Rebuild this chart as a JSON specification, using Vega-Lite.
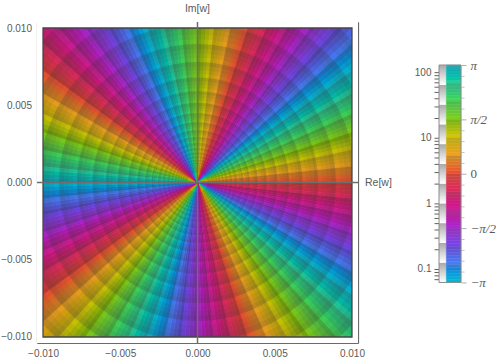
{"$schema":"https://vega.github.io/schema/vega-lite/v6.json","padding":{"left":0,"top":4,"right":0,"bottom":0},"background":"white","bounds":"flush","spacing":81,"config":{"view":{"stroke":null},"axis":{"labelFont":"Liberation Sans","labelFontSize":10,"labelColor":"#5a5a5a","tickColor":"#707070","domainColor":"#6a6a6a","title":null,"grid":false,"tickRound":false},"text":{"font":"Liberation Sans"}},
"datasets":{"wedges":[
{"t":0,"u":1.5,"p":86.25,"s":0.875},{"t":1.5,"u":3,"p":78.75,"s":0.625},{"t":3,"u":4.5,"p":71.25,"s":0.375},{"t":4.5,"u":6,"p":63.75,"s":0.125},{"t":6,"u":7.5,"p":56.25,"s":0.875},{"t":7.5,"u":9,"p":48.75,"s":0.625},{"t":9,"u":10.5,"p":41.25,"s":0.375},{"t":10.5,"u":12,"p":33.75,"s":0.125},{"t":12,"u":13.5,"p":26.25,"s":0.875},{"t":13.5,"u":15,"p":18.75,"s":0.625},{"t":15,"u":16.5,"p":11.25,"s":0.375},{"t":16.5,"u":18,"p":3.75,"s":0.125},{"t":18,"u":19.5,"p":-3.75,"s":0.875},{"t":19.5,"u":21,"p":-11.25,"s":0.625},{"t":21,"u":22.5,"p":-18.75,"s":0.375},{"t":22.5,"u":24,"p":-26.25,"s":0.125},{"t":24,"u":25.5,"p":-33.75,"s":0.875},{"t":25.5,"u":27,"p":-41.25,"s":0.625},{"t":27,"u":28.5,"p":-48.75,"s":0.375},{"t":28.5,"u":30,"p":-56.25,"s":0.125},{"t":30,"u":31.5,"p":-63.75,"s":0.875},{"t":31.5,"u":33,"p":-71.25,"s":0.625},{"t":33,"u":34.5,"p":-78.75,"s":0.375},{"t":34.5,"u":36,"p":-86.25,"s":0.125},{"t":36,"u":37.5,"p":-93.75,"s":0.875},{"t":37.5,"u":39,"p":-101.25,"s":0.625},{"t":39,"u":40.5,"p":-108.75,"s":0.375},{"t":40.5,"u":42,"p":-116.25,"s":0.125},{"t":42,"u":43.5,"p":-123.75,"s":0.875},{"t":43.5,"u":45,"p":-131.25,"s":0.625},{"t":45,"u":46.5,"p":-138.75,"s":0.375},{"t":46.5,"u":48,"p":-146.25,"s":0.125},{"t":48,"u":49.5,"p":-153.75,"s":0.875},{"t":49.5,"u":51,"p":-161.25,"s":0.625},{"t":51,"u":52.5,"p":-168.75,"s":0.375},{"t":52.5,"u":54,"p":-176.25,"s":0.125},{"t":54,"u":55.5,"p":176.25,"s":0.875},{"t":55.5,"u":57,"p":168.75,"s":0.625},{"t":57,"u":58.5,"p":161.25,"s":0.375},{"t":58.5,"u":60,"p":153.75,"s":0.125},{"t":60,"u":61.5,"p":146.25,"s":0.875},{"t":61.5,"u":63,"p":138.75,"s":0.625},{"t":63,"u":64.5,"p":131.25,"s":0.375},{"t":64.5,"u":66,"p":123.75,"s":0.125},{"t":66,"u":67.5,"p":116.25,"s":0.875},{"t":67.5,"u":69,"p":108.75,"s":0.625},{"t":69,"u":70.5,"p":101.25,"s":0.375},{"t":70.5,"u":72,"p":93.75,"s":0.125},
{"t":72,"u":73.5,"p":86.25,"s":0.875},{"t":73.5,"u":75,"p":78.75,"s":0.625},{"t":75,"u":76.5,"p":71.25,"s":0.375},{"t":76.5,"u":78,"p":63.75,"s":0.125},{"t":78,"u":79.5,"p":56.25,"s":0.875},{"t":79.5,"u":81,"p":48.75,"s":0.625},{"t":81,"u":82.5,"p":41.25,"s":0.375},{"t":82.5,"u":84,"p":33.75,"s":0.125},{"t":84,"u":85.5,"p":26.25,"s":0.875},{"t":85.5,"u":87,"p":18.75,"s":0.625},{"t":87,"u":88.5,"p":11.25,"s":0.375},{"t":88.5,"u":90,"p":3.75,"s":0.125},{"t":90,"u":91.5,"p":-3.75,"s":0.875},{"t":91.5,"u":93,"p":-11.25,"s":0.625},{"t":93,"u":94.5,"p":-18.75,"s":0.375},{"t":94.5,"u":96,"p":-26.25,"s":0.125},{"t":96,"u":97.5,"p":-33.75,"s":0.875},{"t":97.5,"u":99,"p":-41.25,"s":0.625},{"t":99,"u":100.5,"p":-48.75,"s":0.375},{"t":100.5,"u":102,"p":-56.25,"s":0.125},{"t":102,"u":103.5,"p":-63.75,"s":0.875},{"t":103.5,"u":105,"p":-71.25,"s":0.625},{"t":105,"u":106.5,"p":-78.75,"s":0.375},{"t":106.5,"u":108,"p":-86.25,"s":0.125},{"t":108,"u":109.5,"p":-93.75,"s":0.875},{"t":109.5,"u":111,"p":-101.25,"s":0.625},{"t":111,"u":112.5,"p":-108.75,"s":0.375},{"t":112.5,"u":114,"p":-116.25,"s":0.125},{"t":114,"u":115.5,"p":-123.75,"s":0.875},{"t":115.5,"u":117,"p":-131.25,"s":0.625},{"t":117,"u":118.5,"p":-138.75,"s":0.375},{"t":118.5,"u":120,"p":-146.25,"s":0.125},{"t":120,"u":121.5,"p":-153.75,"s":0.875},{"t":121.5,"u":123,"p":-161.25,"s":0.625},{"t":123,"u":124.5,"p":-168.75,"s":0.375},{"t":124.5,"u":126,"p":-176.25,"s":0.125},{"t":126,"u":127.5,"p":176.25,"s":0.875},{"t":127.5,"u":129,"p":168.75,"s":0.625},{"t":129,"u":130.5,"p":161.25,"s":0.375},{"t":130.5,"u":132,"p":153.75,"s":0.125},{"t":132,"u":133.5,"p":146.25,"s":0.875},{"t":133.5,"u":135,"p":138.75,"s":0.625},{"t":135,"u":136.5,"p":131.25,"s":0.375},{"t":136.5,"u":138,"p":123.75,"s":0.125},{"t":138,"u":139.5,"p":116.25,"s":0.875},{"t":139.5,"u":141,"p":108.75,"s":0.625},{"t":141,"u":142.5,"p":101.25,"s":0.375},{"t":142.5,"u":144,"p":93.75,"s":0.125},
{"t":144,"u":145.5,"p":86.25,"s":0.875},{"t":145.5,"u":147,"p":78.75,"s":0.625},{"t":147,"u":148.5,"p":71.25,"s":0.375},{"t":148.5,"u":150,"p":63.75,"s":0.125},{"t":150,"u":151.5,"p":56.25,"s":0.875},{"t":151.5,"u":153,"p":48.75,"s":0.625},{"t":153,"u":154.5,"p":41.25,"s":0.375},{"t":154.5,"u":156,"p":33.75,"s":0.125},{"t":156,"u":157.5,"p":26.25,"s":0.875},{"t":157.5,"u":159,"p":18.75,"s":0.625},{"t":159,"u":160.5,"p":11.25,"s":0.375},{"t":160.5,"u":162,"p":3.75,"s":0.125},{"t":162,"u":163.5,"p":-3.75,"s":0.875},{"t":163.5,"u":165,"p":-11.25,"s":0.625},{"t":165,"u":166.5,"p":-18.75,"s":0.375},{"t":166.5,"u":168,"p":-26.25,"s":0.125},{"t":168,"u":169.5,"p":-33.75,"s":0.875},{"t":169.5,"u":171,"p":-41.25,"s":0.625},{"t":171,"u":172.5,"p":-48.75,"s":0.375},{"t":172.5,"u":174,"p":-56.25,"s":0.125},{"t":174,"u":175.5,"p":-63.75,"s":0.875},{"t":175.5,"u":177,"p":-71.25,"s":0.625},{"t":177,"u":178.5,"p":-78.75,"s":0.375},{"t":178.5,"u":180,"p":-86.25,"s":0.125},{"t":180,"u":181.5,"p":-93.75,"s":0.875},{"t":181.5,"u":183,"p":-101.25,"s":0.625},{"t":183,"u":184.5,"p":-108.75,"s":0.375},{"t":184.5,"u":186,"p":-116.25,"s":0.125},{"t":186,"u":187.5,"p":-123.75,"s":0.875},{"t":187.5,"u":189,"p":-131.25,"s":0.625},{"t":189,"u":190.5,"p":-138.75,"s":0.375},{"t":190.5,"u":192,"p":-146.25,"s":0.125},{"t":192,"u":193.5,"p":-153.75,"s":0.875},{"t":193.5,"u":195,"p":-161.25,"s":0.625},{"t":195,"u":196.5,"p":-168.75,"s":0.375},{"t":196.5,"u":198,"p":-176.25,"s":0.125},{"t":198,"u":199.5,"p":176.25,"s":0.875},{"t":199.5,"u":201,"p":168.75,"s":0.625},{"t":201,"u":202.5,"p":161.25,"s":0.375},{"t":202.5,"u":204,"p":153.75,"s":0.125},{"t":204,"u":205.5,"p":146.25,"s":0.875},{"t":205.5,"u":207,"p":138.75,"s":0.625},{"t":207,"u":208.5,"p":131.25,"s":0.375},{"t":208.5,"u":210,"p":123.75,"s":0.125},{"t":210,"u":211.5,"p":116.25,"s":0.875},{"t":211.5,"u":213,"p":108.75,"s":0.625},{"t":213,"u":214.5,"p":101.25,"s":0.375},{"t":214.5,"u":216,"p":93.75,"s":0.125},
{"t":216,"u":217.5,"p":86.25,"s":0.875},{"t":217.5,"u":219,"p":78.75,"s":0.625},{"t":219,"u":220.5,"p":71.25,"s":0.375},{"t":220.5,"u":222,"p":63.75,"s":0.125},{"t":222,"u":223.5,"p":56.25,"s":0.875},{"t":223.5,"u":225,"p":48.75,"s":0.625},{"t":225,"u":226.5,"p":41.25,"s":0.375},{"t":226.5,"u":228,"p":33.75,"s":0.125},{"t":228,"u":229.5,"p":26.25,"s":0.875},{"t":229.5,"u":231,"p":18.75,"s":0.625},{"t":231,"u":232.5,"p":11.25,"s":0.375},{"t":232.5,"u":234,"p":3.75,"s":0.125},{"t":234,"u":235.5,"p":-3.75,"s":0.875},{"t":235.5,"u":237,"p":-11.25,"s":0.625},{"t":237,"u":238.5,"p":-18.75,"s":0.375},{"t":238.5,"u":240,"p":-26.25,"s":0.125},{"t":240,"u":241.5,"p":-33.75,"s":0.875},{"t":241.5,"u":243,"p":-41.25,"s":0.625},{"t":243,"u":244.5,"p":-48.75,"s":0.375},{"t":244.5,"u":246,"p":-56.25,"s":0.125},{"t":246,"u":247.5,"p":-63.75,"s":0.875},{"t":247.5,"u":249,"p":-71.25,"s":0.625},{"t":249,"u":250.5,"p":-78.75,"s":0.375},{"t":250.5,"u":252,"p":-86.25,"s":0.125},{"t":252,"u":253.5,"p":-93.75,"s":0.875},{"t":253.5,"u":255,"p":-101.25,"s":0.625},{"t":255,"u":256.5,"p":-108.75,"s":0.375},{"t":256.5,"u":258,"p":-116.25,"s":0.125},{"t":258,"u":259.5,"p":-123.75,"s":0.875},{"t":259.5,"u":261,"p":-131.25,"s":0.625},{"t":261,"u":262.5,"p":-138.75,"s":0.375},{"t":262.5,"u":264,"p":-146.25,"s":0.125},{"t":264,"u":265.5,"p":-153.75,"s":0.875},{"t":265.5,"u":267,"p":-161.25,"s":0.625},{"t":267,"u":268.5,"p":-168.75,"s":0.375},{"t":268.5,"u":270,"p":-176.25,"s":0.125},{"t":270,"u":271.5,"p":176.25,"s":0.875},{"t":271.5,"u":273,"p":168.75,"s":0.625},{"t":273,"u":274.5,"p":161.25,"s":0.375},{"t":274.5,"u":276,"p":153.75,"s":0.125},{"t":276,"u":277.5,"p":146.25,"s":0.875},{"t":277.5,"u":279,"p":138.75,"s":0.625},{"t":279,"u":280.5,"p":131.25,"s":0.375},{"t":280.5,"u":282,"p":123.75,"s":0.125},{"t":282,"u":283.5,"p":116.25,"s":0.875},{"t":283.5,"u":285,"p":108.75,"s":0.625},{"t":285,"u":286.5,"p":101.25,"s":0.375},{"t":286.5,"u":288,"p":93.75,"s":0.125},
{"t":288,"u":289.5,"p":86.25,"s":0.875},{"t":289.5,"u":291,"p":78.75,"s":0.625},{"t":291,"u":292.5,"p":71.25,"s":0.375},{"t":292.5,"u":294,"p":63.75,"s":0.125},{"t":294,"u":295.5,"p":56.25,"s":0.875},{"t":295.5,"u":297,"p":48.75,"s":0.625},{"t":297,"u":298.5,"p":41.25,"s":0.375},{"t":298.5,"u":300,"p":33.75,"s":0.125},{"t":300,"u":301.5,"p":26.25,"s":0.875},{"t":301.5,"u":303,"p":18.75,"s":0.625},{"t":303,"u":304.5,"p":11.25,"s":0.375},{"t":304.5,"u":306,"p":3.75,"s":0.125},{"t":306,"u":307.5,"p":-3.75,"s":0.875},{"t":307.5,"u":309,"p":-11.25,"s":0.625},{"t":309,"u":310.5,"p":-18.75,"s":0.375},{"t":310.5,"u":312,"p":-26.25,"s":0.125},{"t":312,"u":313.5,"p":-33.75,"s":0.875},{"t":313.5,"u":315,"p":-41.25,"s":0.625},{"t":315,"u":316.5,"p":-48.75,"s":0.375},{"t":316.5,"u":318,"p":-56.25,"s":0.125},{"t":318,"u":319.5,"p":-63.75,"s":0.875},{"t":319.5,"u":321,"p":-71.25,"s":0.625},{"t":321,"u":322.5,"p":-78.75,"s":0.375},{"t":322.5,"u":324,"p":-86.25,"s":0.125},{"t":324,"u":325.5,"p":-93.75,"s":0.875},{"t":325.5,"u":327,"p":-101.25,"s":0.625},{"t":327,"u":328.5,"p":-108.75,"s":0.375},{"t":328.5,"u":330,"p":-116.25,"s":0.125},{"t":330,"u":331.5,"p":-123.75,"s":0.875},{"t":331.5,"u":333,"p":-131.25,"s":0.625},{"t":333,"u":334.5,"p":-138.75,"s":0.375},{"t":334.5,"u":336,"p":-146.25,"s":0.125},{"t":336,"u":337.5,"p":-153.75,"s":0.875},{"t":337.5,"u":339,"p":-161.25,"s":0.625},{"t":339,"u":340.5,"p":-168.75,"s":0.375},{"t":340.5,"u":342,"p":-176.25,"s":0.125},{"t":342,"u":343.5,"p":176.25,"s":0.875},{"t":343.5,"u":345,"p":168.75,"s":0.625},{"t":345,"u":346.5,"p":161.25,"s":0.375},{"t":346.5,"u":348,"p":153.75,"s":0.125},{"t":348,"u":349.5,"p":146.25,"s":0.875},{"t":349.5,"u":351,"p":138.75,"s":0.625},{"t":351,"u":352.5,"p":131.25,"s":0.375},{"t":352.5,"u":354,"p":123.75,"s":0.125},{"t":354,"u":355.5,"p":116.25,"s":0.875},{"t":355.5,"u":357,"p":108.75,"s":0.625},{"t":357,"u":358.5,"p":101.25,"s":0.375},{"t":358.5,"u":360,"p":93.75,"s":0.125}],
"rings":[
{"r":0.01507,"r2":0.0156,"s":0.875},{"r":0.01455,"r2":0.01507,"s":0.625},{"r":0.01406,"r2":0.01455,"s":0.375},{"r":0.01358,"r2":0.01406,"s":0.125},
{"r":0.01312,"r2":0.01358,"s":0.875},{"r":0.01267,"r2":0.01312,"s":0.625},{"r":0.01224,"r2":0.01267,"s":0.375},{"r":0.01182,"r2":0.01224,"s":0.125},
{"r":0.01142,"r2":0.01182,"s":0.875},{"r":0.01103,"r2":0.01142,"s":0.625},{"r":0.01065,"r2":0.01103,"s":0.375},{"r":0.01029,"r2":0.01065,"s":0.125},
{"r":0.00994,"r2":0.01029,"s":0.875},{"r":0.0096,"r2":0.00994,"s":0.625},{"r":0.00928,"r2":0.0096,"s":0.375},{"r":0.00896,"r2":0.00928,"s":0.125},
{"r":0.00866,"r2":0.00896,"s":0.875},{"r":0.00836,"r2":0.00866,"s":0.625},{"r":0.00808,"r2":0.00836,"s":0.375},{"r":0.0078,"r2":0.00808,"s":0.125},
{"r":0.00753,"r2":0.0078,"s":0.875},{"r":0.00728,"r2":0.00753,"s":0.625},{"r":0.00703,"r2":0.00728,"s":0.375},{"r":0.00679,"r2":0.00703,"s":0.125},
{"r":0.00656,"r2":0.00679,"s":0.875},{"r":0.00633,"r2":0.00656,"s":0.625},{"r":0.00612,"r2":0.00633,"s":0.375},{"r":0.00591,"r2":0.00612,"s":0.125},
{"r":0.00571,"r2":0.00591,"s":0.875},{"r":0.00552,"r2":0.00571,"s":0.625},{"r":0.00533,"r2":0.00552,"s":0.375},{"r":0.00515,"r2":0.00533,"s":0.125},
{"r":0.00497,"r2":0.00515,"s":0.875},{"r":0.0048,"r2":0.00497,"s":0.625},{"r":0.00464,"r2":0.0048,"s":0.375},{"r":0.00448,"r2":0.00464,"s":0.125},
{"r":0.00433,"r2":0.00448,"s":0.875},{"r":0.00418,"r2":0.00433,"s":0.625},{"r":0.00404,"r2":0.00418,"s":0.375},{"r":0.0039,"r2":0.00404,"s":0.125},
{"r":0.00376,"r2":0.0039,"s":0.875},{"r":0.00363,"r2":0.00376,"s":0.625},{"r":0.00351,"r2":0.00363,"s":0.375},{"r":0.00339,"r2":0.00351,"s":0.125},
{"r":0.00327,"r2":0.00339,"s":0.875},{"r":0.00316,"r2":0.00327,"s":0.625},{"r":0.00305,"r2":0.00316,"s":0.375},{"r":0.00295,"r2":0.00305,"s":0.125},
{"r":0.00285,"r2":0.00295,"s":0.875},{"r":0.00275,"r2":0.00285,"s":0.625},{"r":0.00266,"r2":0.00275,"s":0.375},{"r":0.00257,"r2":0.00266,"s":0.125},
{"r":0.0024,"r2":0.00257,"s":0.75},{"r":0.00224,"r2":0.0024,"s":0.25},{"r":0.00209,"r2":0.00224,"s":0.75},{"r":0.00195,"r2":0.00209,"s":0.25},{"r":0.00182,"r2":0.00195,"s":0.75},{"r":0.0017,"r2":0.00182,"s":0.25},{"r":0.00159,"r2":0.0017,"s":0.75},{"r":0.00148,"r2":0.00159,"s":0.25},{"r":0.00138,"r2":0.00148,"s":0.75},{"r":0.00129,"r2":0.00138,"s":0.25},{"r":0.0012,"r2":0.00129,"s":0.75},{"r":0.00112,"r2":0.0012,"s":0.25},{"r":0.00105,"r2":0.00112,"s":0.75},{"r":0.00098,"r2":0.00105,"s":0.25},{"r":0.00091,"r2":0.00098,"s":0.75},{"r":0.00085,"r2":0.00091,"s":0.25},{"r":0.00079,"r2":0.00085,"s":0.75},{"r":0.00074,"r2":0.00079,"s":0.25},{"r":0.00069,"r2":0.00074,"s":0.75},{"r":0.00064,"r2":0.00069,"s":0.25}],
"phase":[
{"p":-180,"q":-175,"m":-177.5,"s":0.08},{"p":-175,"q":-170,"m":-172.5,"s":0.25},{"p":-170,"q":-165,"m":-167.5,"s":0.42},{"p":-165,"q":-160,"m":-162.5,"s":0.58},{"p":-160,"q":-155,"m":-157.5,"s":0.75},{"p":-155,"q":-150,"m":-152.5,"s":0.92},
{"p":-150,"q":-145,"m":-147.5,"s":0.08},{"p":-145,"q":-140,"m":-142.5,"s":0.25},{"p":-140,"q":-135,"m":-137.5,"s":0.42},{"p":-135,"q":-130,"m":-132.5,"s":0.58},{"p":-130,"q":-125,"m":-127.5,"s":0.75},{"p":-125,"q":-120,"m":-122.5,"s":0.92},
{"p":-120,"q":-115,"m":-117.5,"s":0.08},{"p":-115,"q":-110,"m":-112.5,"s":0.25},{"p":-110,"q":-105,"m":-107.5,"s":0.42},{"p":-105,"q":-100,"m":-102.5,"s":0.58},{"p":-100,"q":-95,"m":-97.5,"s":0.75},{"p":-95,"q":-90,"m":-92.5,"s":0.92},
{"p":-90,"q":-85,"m":-87.5,"s":0.08},{"p":-85,"q":-80,"m":-82.5,"s":0.25},{"p":-80,"q":-75,"m":-77.5,"s":0.42},{"p":-75,"q":-70,"m":-72.5,"s":0.58},{"p":-70,"q":-65,"m":-67.5,"s":0.75},{"p":-65,"q":-60,"m":-62.5,"s":0.92},
{"p":-60,"q":-55,"m":-57.5,"s":0.08},{"p":-55,"q":-50,"m":-52.5,"s":0.25},{"p":-50,"q":-45,"m":-47.5,"s":0.42},{"p":-45,"q":-40,"m":-42.5,"s":0.58},{"p":-40,"q":-35,"m":-37.5,"s":0.75},{"p":-35,"q":-30,"m":-32.5,"s":0.92},
{"p":-30,"q":-25,"m":-27.5,"s":0.08},{"p":-25,"q":-20,"m":-22.5,"s":0.25},{"p":-20,"q":-15,"m":-17.5,"s":0.42},{"p":-15,"q":-10,"m":-12.5,"s":0.58},{"p":-10,"q":-5,"m":-7.5,"s":0.75},{"p":-5,"q":0,"m":-2.5,"s":0.92},
{"p":0,"q":5,"m":2.5,"s":0.08},{"p":5,"q":10,"m":7.5,"s":0.25},{"p":10,"q":15,"m":12.5,"s":0.42},{"p":15,"q":20,"m":17.5,"s":0.58},{"p":20,"q":25,"m":22.5,"s":0.75},{"p":25,"q":30,"m":27.5,"s":0.92},
{"p":30,"q":35,"m":32.5,"s":0.08},{"p":35,"q":40,"m":37.5,"s":0.25},{"p":40,"q":45,"m":42.5,"s":0.42},{"p":45,"q":50,"m":47.5,"s":0.58},{"p":50,"q":55,"m":52.5,"s":0.75},{"p":55,"q":60,"m":57.5,"s":0.92},
{"p":60,"q":65,"m":62.5,"s":0.08},{"p":65,"q":70,"m":67.5,"s":0.25},{"p":70,"q":75,"m":72.5,"s":0.42},{"p":75,"q":80,"m":77.5,"s":0.58},{"p":80,"q":85,"m":82.5,"s":0.75},{"p":85,"q":90,"m":87.5,"s":0.92},
{"p":90,"q":95,"m":92.5,"s":0.08},{"p":95,"q":100,"m":97.5,"s":0.25},{"p":100,"q":105,"m":102.5,"s":0.42},{"p":105,"q":110,"m":107.5,"s":0.58},{"p":110,"q":115,"m":112.5,"s":0.75},{"p":115,"q":120,"m":117.5,"s":0.92},
{"p":120,"q":125,"m":122.5,"s":0.08},{"p":125,"q":130,"m":127.5,"s":0.25},{"p":130,"q":135,"m":132.5,"s":0.42},{"p":135,"q":140,"m":137.5,"s":0.58},{"p":140,"q":145,"m":142.5,"s":0.75},{"p":145,"q":150,"m":147.5,"s":0.92},
{"p":150,"q":155,"m":152.5,"s":0.08},{"p":155,"q":160,"m":157.5,"s":0.25},{"p":160,"q":165,"m":162.5,"s":0.42},{"p":165,"q":170,"m":167.5,"s":0.58},{"p":170,"q":175,"m":172.5,"s":0.75},{"p":175,"q":180,"m":177.5,"s":0.92}],
"mag":[{"a":0.0625,"b":0.125},{"a":0.125,"b":0.25},{"a":0.25,"b":0.5},{"a":0.5,"b":1},{"a":1,"b":2},{"a":2,"b":4},{"a":4,"b":8},{"a":8,"b":16},{"a":16,"b":32},{"a":32,"b":64},{"a":64,"b":128}],
"one":[{"x":0,"y":0}]},
"hconcat":[
{"width":321,"height":321,"resolve":{"axis":{"x":"independent","y":"independent"}},"layer":[
{"data":{"name":"wedges"},"mark":{"type":"arc","clip":true,"outerRadius":235,"innerRadius":0,"strokeWidth":0.6},"encoding":{"theta":{"field":"t","type":"quantitative","scale":{"domain":[0,360],"range":[0,6.283185]}},"theta2":{"field":"u"},"color":{"field":"p","type":"quantitative","legend":null,"scale":{"domain":[-180,-150,-120,-90,-60,-30,0,30,60,90,120,150,180],"range":["#28bed2","#4682fa","#6e46f0","#aa28dc","#d21ea0","#e12864","#f04632","#f5a01e","#dcc80a","#82d20a","#46dc50","#32d296","#28bed2"]}},"stroke":{"field":"p","type":"quantitative","legend":null,"scale":{"domain":[-180,-150,-120,-90,-60,-30,0,30,60,90,120,150,180],"range":["#28bed2","#4682fa","#6e46f0","#aa28dc","#d21ea0","#e12864","#f04632","#f5a01e","#dcc80a","#82d20a","#46dc50","#32d296","#28bed2"]}}}},
{"data":{"name":"wedges"},"mark":{"type":"arc","clip":true,"outerRadius":235,"innerRadius":0,"color":"#222222"},"encoding":{"theta":{"field":"t","type":"quantitative","scale":{"domain":[0,360],"range":[0,6.283185]}},"theta2":{"field":"u"},"opacity":{"field":"s","type":"quantitative","legend":null,"scale":{"domain":[0,1],"range":[0,0.27]}}}},
{"data":{"name":"rings"},"mark":{"type":"arc","clip":true,"color":"#333333","theta":0,"theta2":6.2832},"encoding":{"radius":{"field":"r","type":"quantitative","scale":{"type":"linear","domain":[0,0.01],"range":[0,154.5]}},"radius2":{"field":"r2"},"opacity":{"field":"s","type":"quantitative","legend":null,"scale":{"domain":[0,1],"range":[0,0.27]}}}},
{"data":{"values":[{"x":-0.011,"x2":-0.01,"y":-0.011,"y2":0.011},{"x":0.01,"x2":0.011,"y":-0.011,"y2":0.011},{"x":-0.011,"x2":0.011,"y":0.01,"y2":0.011},{"x":-0.011,"x2":0.011,"y":-0.011,"y2":-0.01}]},"mark":{"type":"rect","color":"white","clip":true},"encoding":{"x":{"field":"x","type":"quantitative","axis":null,"scale":{"domain":[-0.01039,0.01039],"nice":false,"zero":false}},"x2":{"field":"x2"},"y":{"field":"y","type":"quantitative","axis":null,"scale":{"domain":[-0.01039,0.01039],"nice":false,"zero":false}},"y2":{"field":"y2"}}},
{"data":{"values":[{"x":-0.01,"x2":0.01,"y":-0.01,"y2":0.01}]},"mark":{"type":"rect","fill":null,"stroke":"#454545","strokeWidth":1.3},"encoding":{"x":{"field":"x","type":"quantitative","axis":null,"scale":{"domain":[-0.01039,0.01039],"nice":false,"zero":false}},"x2":{"field":"x2"},"y":{"field":"y","type":"quantitative","axis":null,"scale":{"domain":[-0.01039,0.01039],"nice":false,"zero":false}},"y2":{"field":"y2"}}},
{"data":{"name":"one"},"mark":{"type":"rule","color":"#6e6e6e","strokeWidth":1.5},"encoding":{"x":{"field":"x","type":"quantitative","axis":null,"scale":{"domain":[-0.01039,0.01039],"nice":false,"zero":false}}}},
{"data":{"name":"one"},"mark":{"type":"rule","color":"#6e6e6e","strokeWidth":1.5},"encoding":{"y":{"field":"y","type":"quantitative","axis":null,"scale":{"domain":[-0.01039,0.01039],"nice":false,"zero":false}}}},
{"data":{"name":"one"},"mark":{"type":"point","opacity":0},"encoding":{"x":{"field":"x","type":"quantitative","scale":{"domain":[-0.01039,0.01039],"nice":false,"zero":false},"axis":{"orient":"bottom","values":[-0.01,-0.005,0,0.005,0.01],"format":".3f","tickSize":-5,"labelPadding":10.5,"domainWidth":1.2,"labelFlush":false}},"y":{"field":"y","type":"quantitative","scale":{"domain":[-0.01039,0.01039],"nice":false,"zero":false},"axis":{"orient":"left","values":[-0.01,-0.005,0,0.005,0.01],"format":".3f","tickSize":-5,"labelPadding":10.5,"domainWidth":1.2,"labelFlush":false}}}},
{"data":{"name":"one"},"mark":{"type":"point","opacity":0},"encoding":{"x":{"field":"x","type":"quantitative","scale":{"domain":[-0.01039,0.01039],"nice":false,"zero":false},"axis":{"orient":"top","values":[-0.01,-0.005,0,0.005,0.01],"labels":false,"tickSize":-5,"domainWidth":1.2}},"y":{"field":"y","type":"quantitative","scale":{"domain":[-0.01039,0.01039],"nice":false,"zero":false},"axis":{"orient":"right","values":[-0.01,-0.005,0,0.005,0.01],"labels":false,"tickSize":-5,"domainWidth":1.2}}}},
{"data":{"name":"one"},"mark":{"type":"point","opacity":0},"encoding":{"x":{"field":"x","type":"quantitative","scale":{"domain":[-0.01039,0.01039],"nice":false,"zero":false},"axis":{"orient":"bottom","values":[-0.009,-0.008,-0.007,-0.006,-0.004,-0.003,-0.002,-0.001,0.001,0.002,0.003,0.004,0.006,0.007,0.008,0.009],"labels":false,"domain":false,"tickSize":-3}},"y":{"field":"y","type":"quantitative","scale":{"domain":[-0.01039,0.01039],"nice":false,"zero":false},"axis":{"orient":"left","values":[-0.009,-0.008,-0.007,-0.006,-0.004,-0.003,-0.002,-0.001,0.001,0.002,0.003,0.004,0.006,0.007,0.008,0.009],"labels":false,"domain":false,"tickSize":-3}}}},
{"data":{"name":"one"},"mark":{"type":"point","opacity":0},"encoding":{"x":{"field":"x","type":"quantitative","scale":{"domain":[-0.01039,0.01039],"nice":false,"zero":false},"axis":{"orient":"top","values":[-0.009,-0.008,-0.007,-0.006,-0.004,-0.003,-0.002,-0.001,0.001,0.002,0.003,0.004,0.006,0.007,0.008,0.009],"labels":false,"domain":false,"tickSize":-3}},"y":{"field":"y","type":"quantitative","scale":{"domain":[-0.01039,0.01039],"nice":false,"zero":false},"axis":{"orient":"right","values":[-0.009,-0.008,-0.007,-0.006,-0.004,-0.003,-0.002,-0.001,0.001,0.002,0.003,0.004,0.006,0.007,0.008,0.009],"labels":false,"domain":false,"tickSize":-3}}}},
{"data":{"values":[{"x":0.01039,"y":0,"t":"Re[w]"}]},"mark":{"type":"text","align":"left","baseline":"middle","dx":7,"fontSize":10.5,"color":"#5a5a5a"},"encoding":{"text":{"field":"t"},"x":{"field":"x","type":"quantitative","axis":null,"scale":{"domain":[-0.01039,0.01039],"nice":false,"zero":false}},"y":{"field":"y","type":"quantitative","axis":null,"scale":{"domain":[-0.01039,0.01039],"nice":false,"zero":false}}}},
{"data":{"values":[{"x":0,"y":0.01039,"t":"Im[w]"}]},"mark":{"type":"text","align":"center","baseline":"middle","dy":-13,"fontSize":10.5,"color":"#5a5a5a"},"encoding":{"text":{"field":"t"},"x":{"field":"x","type":"quantitative","axis":null,"scale":{"domain":[-0.01039,0.01039],"nice":false,"zero":false}},"y":{"field":"y","type":"quantitative","axis":null,"scale":{"domain":[-0.01039,0.01039],"nice":false,"zero":false}}}}
]},
{"width":22,"height":321,"resolve":{"scale":{"y":"independent"},"axis":{"y":"independent"}},"layer":[
{"data":{"name":"mag"},"mark":{"type":"rect","fill":{"gradient":"linear","x1":0,"y1":0,"x2":0,"y2":1,"stops":[{"offset":0,"color":"#a8a8a8"},{"offset":1,"color":"#ffffff"}]}},"encoding":{"x":{"datum":0,"type":"quantitative","axis":null,"scale":{"domain":[0,3],"nice":false}},"x2":{"datum":1},"y":{"field":"a","type":"quantitative","scale":{"type":"log","domain":[0.00745,581],"nice":false},"axis":{"orient":"left","values":[0.07,0.08,0.09,0.1,0.2,0.3,0.4,0.5,0.6,0.7,0.8,0.9,1,2,3,4,5,6,7,8,9,10,20,30,40,50,60,70,80,90,100],"labelExpr":"datum.value==100?'100':datum.value==10?'10':datum.value==1?'1':datum.value==0.1?'0.1':''","labelOverlap":false,"domain":false,"tickSize":5,"tickColor":"#606060","labelPadding":3}},"y2":{"field":"b"}}},
{"data":{"name":"phase"},"mark":{"type":"rect","strokeWidth":0.4},"encoding":{"x":{"datum":1,"type":"quantitative","axis":null,"scale":{"domain":[0,3],"nice":false}},"x2":{"datum":3},"y":{"field":"p","type":"quantitative","axis":null,"scale":{"domain":[-280.2,251.2],"nice":false,"zero":false}},"y2":{"field":"q"},"color":{"field":"m","type":"quantitative","legend":null,"scale":{"domain":[-180,-150,-120,-90,-60,-30,0,30,60,90,120,150,180],"range":["#28bed2","#4682fa","#6e46f0","#aa28dc","#d21ea0","#e12864","#f04632","#f5a01e","#dcc80a","#82d20a","#46dc50","#32d296","#28bed2"]}},"stroke":{"field":"m","type":"quantitative","legend":null,"scale":{"domain":[-180,-150,-120,-90,-60,-30,0,30,60,90,120,150,180],"range":["#28bed2","#4682fa","#6e46f0","#aa28dc","#d21ea0","#e12864","#f04632","#f5a01e","#dcc80a","#82d20a","#46dc50","#32d296","#28bed2"]}}}},
{"data":{"name":"phase"},"mark":{"type":"rect","color":"#5a5a5a"},"encoding":{"x":{"datum":1,"type":"quantitative","axis":null,"scale":{"domain":[0,3],"nice":false}},"x2":{"datum":3},"y":{"field":"p","type":"quantitative","scale":{"domain":[-280.2,251.2],"nice":false,"zero":false},"axis":{"orient":"right","values":[-180,-90,0,90,180],"labelExpr":"datum.value==180?'π':datum.value==90?'π/2':datum.value==0?'0':datum.value==-90?'−π/2':'−π'","domain":false,"tickSize":5,"tickColor":"#b0b0b0","labelPadding":4,"labelFontSize":13,"labelFont":"Liberation Serif","labelFontStyle":{"condition":{"test":"datum.value==0","value":"normal"},"value":"italic"}}},"y2":{"field":"q"},"opacity":{"field":"s","type":"quantitative","legend":null,"scale":{"domain":[0,1],"range":[0,0.5]}}}},
{"data":{"name":"one"},"mark":{"type":"point","opacity":0},"encoding":{"y":{"field":"y","type":"quantitative","scale":{"domain":[-280.2,251.2],"nice":false,"zero":false},"axis":{"orient":"right","values":[-162,-144,-126,-108,-72,-54,-36,-18,18,36,54,72,108,126,144,162],"labels":false,"domain":false,"tickSize":3,"tickColor":"#c4c4c4"}}}},
{"data":{"values":[{"a":0,"b":3,"c":-180,"d":180}]},"mark":{"type":"rect","fill":null,"stroke":"#8c8c8c","strokeWidth":1},"encoding":{"x":{"field":"a","type":"quantitative","axis":null,"scale":{"domain":[0,3],"nice":false}},"x2":{"field":"b"},"y":{"field":"c","type":"quantitative","axis":null,"scale":{"domain":[-280.2,251.2],"nice":false,"zero":false}},"y2":{"field":"d"}}}
]}
]}
